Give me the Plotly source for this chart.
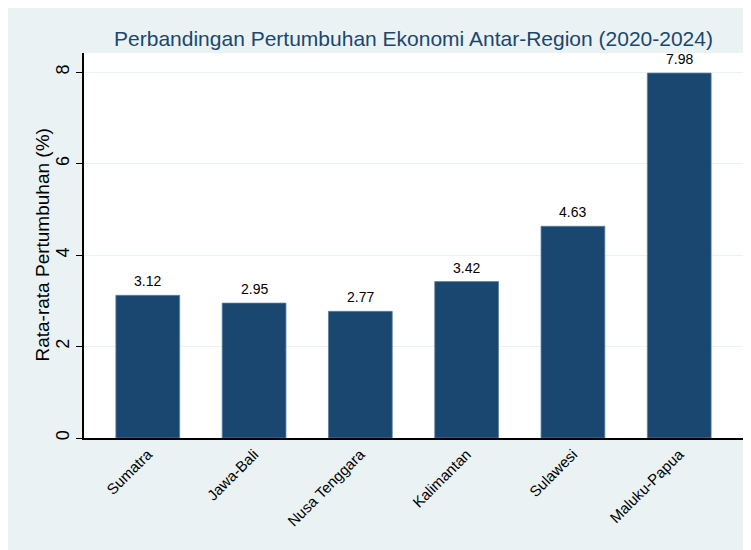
import plotly.graph_objects as go

# Data
regions = ["Sumatra", "Jawa-Bali", "Nusa Tenggara", "Kalimantan", "Sulawesi", "Maluku-Papua"]
growth = [3.12, 2.95, 2.77, 3.42, 4.63, 7.98]
labels = [f"{v:.2f}" for v in growth]

navy = "#1A476F"
bg = "#EAF2F3"
font = "Liberation Sans, Arial, sans-serif"

fig = go.Figure()

fig.add_trace(
    go.Bar(
        x=list(range(len(regions))),
        y=growth,
        width=0.6,
        marker=dict(color=navy, line=dict(color="#5a7fa0", width=0.8)),
    )
)

# value labels above the bars
for i, (v, lab) in enumerate(zip(growth, labels)):
    fig.add_annotation(
        x=i, y=v, text=lab, showarrow=False,
        yanchor="bottom", yshift=4,
        font=dict(size=14, color="black", family=font),
    )

# y axis title placed by hand (rotated tick labels confuse the standoff)
fig.add_annotation(
    xref="paper", yref="paper", x=-0.0637, y=0.5,
    text="Rata-rata Pertumbuhan (%)", textangle=-90, showarrow=False,
    xanchor="center", yanchor="middle",
    font=dict(size=19, color="black", family=font),
)

fig.update_layout(
    width=751,
    height=550,
    margin=dict(l=76, r=16, t=45, b=120),
    paper_bgcolor=bg,
    plot_bgcolor="white",
    showlegend=False,
    font=dict(family=font, color="black"),
    title=dict(
        text="Perbandingan Pertumbuhan Ekonomi Antar-Region (2020-2024)",
        x=0.5,
        xref="paper",
        xanchor="center",
        y=1 - 31 / 550,
        yanchor="middle",
        font=dict(size=21, color=navy, family=font),
    ),
)

fig.update_xaxes(
    tickmode="array",
    tickvals=list(range(len(regions))),
    ticktext=regions,
    tickangle=-45,
    tickfont=dict(size=15, color="black"),
    range=[-0.6, 5.6],
    showline=True,
    linecolor="black",
    linewidth=1.5,
    ticks="",
    showgrid=False,
    zeroline=False,
    automargin=False,
)

fig.update_yaxes(
    range=[0, 8.42],
    tickvals=[0, 2, 4, 6, 8],
    tickangle=-90,
    tickfont=dict(size=18, color="black"),
    ticks="outside",
    ticklen=6,
    tickcolor="black",
    showline=True,
    linecolor="black",
    linewidth=1.5,
    showgrid=True,
    gridcolor=bg,
    gridwidth=1,
    zeroline=False,
    automargin=False,
)

fig.write_html("out.html")
